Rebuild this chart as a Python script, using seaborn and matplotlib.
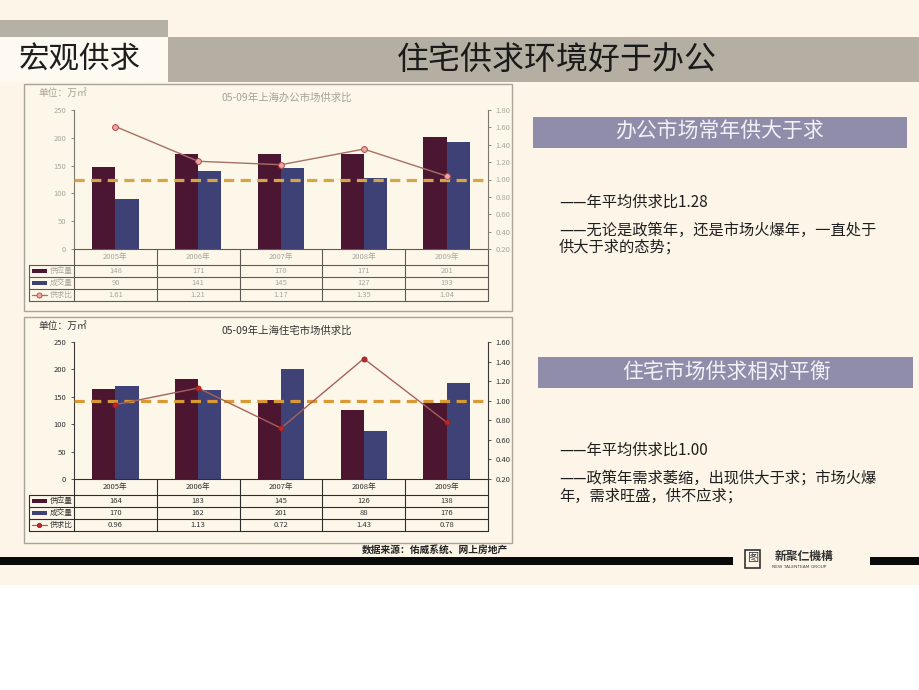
import numpy as np
import pandas as pd
import matplotlib
matplotlib.use("Agg")
import matplotlib.pyplot as plt
import matplotlib.transforms as mtransforms
from matplotlib.patches import Rectangle
from matplotlib.lines import Line2D
import seaborn as sns

sns.set_theme(style="white")
plt.rcParams['font.family'] = ['Noto Sans CJK SC', 'DejaVu Sans']
plt.rcParams['axes.unicode_minus'] = False

# ---------------- data ----------------
years = ["2005年", "2006年", "2007年", "2008年", "2009年"]
series_names = ["供应量", "成交量", "供求比"]

office_supply = [148, 171, 170, 171, 201]
office_deal = [90, 141, 145, 127, 193]
office_ratio = [1.61, 1.21, 1.17, 1.35, 1.04]

res_supply = [164, 183, 145, 126, 138]
res_deal = [170, 162, 201, 88, 176]
res_ratio = [0.96, 1.13, 0.72, 1.43, 0.78]

balance_ratio = 1.00

left_ticks = [0, 50, 100, 150, 200, 250]
office_right_ticks = [0.20, 0.40, 0.60, 0.80, 1.00, 1.20, 1.40, 1.60, 1.80]
res_right_ticks = [0.20, 0.40, 0.60, 0.80, 1.00, 1.20, 1.40, 1.60]

office_title = "05-09年上海办公市场供求比"
res_title = "05-09年上海住宅市场供求比"
unit_label = "单位：万㎡"
section_label = "宏观供求"
page_title = "住宅供求环境好于办公"
office_head = "办公市场常年供大于求"
office_lines = ["——年平均供求比1.28",
                "——无论是政策年，还是市场火爆年，一直处于",
                "供大于求的态势；"]
res_head = "住宅市场供求相对平衡"
res_lines = ["——年平均供求比1.00",
             "——政策年需求萎缩，出现供大于求；市场火爆",
             "年，需求旺盛，供不应求；"]
source_label = "数据来源：佑威系统、网上房地产"
logo_cn = "新聚仁機構"
logo_en = "NEW TALENTEAM GROUP"

# ---------------- figure ----------------
W, H = 920, 690
fig = plt.figure(figsize=(9.2, 6.9), dpi=100)
fig.patch.set_facecolor("white")

bg = fig.add_axes([0, 0, 1, 1])
bg.set_xlim(0, W)
bg.set_ylim(H, 0)
bg.axis("off")
bg.set_zorder(0)

CREAM = "#FDF6E8"
GRAY = "#B5AFA3"


def rect(x, y, w, h, fc, ec="none", lw=0, z=1):
    bg.add_patch(Rectangle((x, y), w, h, facecolor=fc, edgecolor=ec, linewidth=lw, zorder=z))


rect(0, 0, W, 585, CREAM)
rect(0, 20, 168, 17, "#B6B1A6", z=2)
rect(168, 37, W - 168, 45, GRAY, z=2)
rect(0, 37, 168, 45, "#FEFAF2", z=2)
bg.text(80, 60, section_label, fontsize=22, color="#1E1E1E", ha="center", va="center", zorder=3)
bg.text(557, 61, page_title, fontsize=23, color="#1A1A1A", ha="center", va="center", zorder=3)

# chart boxes
rect(24, 84, 488, 227, "#FDF7EA", ec="#A9A398", lw=1.0, z=2)
rect(24, 317, 488, 226, "#FDF7EA", ec="#A9A398", lw=1.0, z=2)

# right side panels
rect(533, 117, 374, 31, "#8F8DAA", z=2)
bg.text(720, 132, office_head, fontsize=15, color="#F3F1F7", ha="center", va="center", zorder=3)
for txt, yy in zip(office_lines, [202, 230, 247]):
    bg.text(559, yy, txt, fontsize=11, color="#1E1E1E", ha="left", va="center", zorder=3)

rect(538, 357, 375, 31, "#8F8DAA", z=2)
bg.text(727, 373, res_head, fontsize=15, color="#F3F1F7", ha="center", va="center", zorder=3)
for txt, yy in zip(res_lines, [450, 478, 496]):
    bg.text(559, yy, txt, fontsize=11, color="#1E1E1E", ha="left", va="center", zorder=3)

# footer
bg.text(508, 550, source_label, fontsize=7, fontweight="bold", color="#222222",
        ha="right", va="center", zorder=3)
rect(0, 557, 733, 8, "#0A0A0A", z=3)
rect(870, 557, 50, 8, "#0A0A0A", z=3)
rect(745, 550, 15, 18, "none", ec="#333333", lw=1.2, z=3)
bg.text(752.5, 558, "图", fontsize=8, color="#333333", ha="center", va="center", zorder=4)
bg.text(775, 556, logo_cn, fontsize=8.5, fontweight="bold", color="#333333", ha="left", va="center", zorder=4)
bg.text(772, 567, logo_en, fontsize=3.2, color="#444444", ha="left", va="center", zorder=4,
        family=["DejaVu Sans"])

AX_L, AX_R = 74, 488


def fig_rect(left, top, right, bottom):
    return [left / W, 1 - bottom / H, (right - left) / W, (bottom - top) / H]


def draw_chart(title, supply, deal, ratio, rticks, top_px, bottom_px, box_top, sty):
    ax = fig.add_axes(fig_rect(AX_L, top_px, AX_R, bottom_px))
    ax.set_zorder(2)
    ax.set_facecolor("none")
    df = pd.DataFrame({
        "year": years * 2,
        "series": [series_names[0]] * len(years) + [series_names[1]] * len(years),
        "value": list(supply) + list(deal),
    })
    sns.barplot(data=df, x="year", y="value", hue="series", order=years,
                hue_order=series_names[:2], palette=[sty["c1"], sty["c2"]],
                width=0.56, saturation=1, legend=False, ax=ax,
                linewidth=0, edgecolor="none")
    ax.set_ylim(left_ticks[0], left_ticks[-1])
    ax.set_yticks(left_ticks)
    ax.set_xlabel("")
    ax.set_ylabel("")
    for s in ["top", "right"]:
        ax.spines[s].set_visible(False)
    ax.spines["left"].set_color(sty["spine"])
    ax.spines["left"].set_linewidth(0.8)
    ax.spines["bottom"].set_color(sty["grid"])
    ax.spines["bottom"].set_linewidth(0.8)
    ax.tick_params(axis="y", labelsize=5.5, labelcolor=sty["text"], color=sty["spine"],
                   length=2.5, width=0.6, direction="out", pad=3, left=True)
    ax.tick_params(axis="x", labelsize=5.5, labelcolor=sty["text"], length=0, pad=3.2)

    ax2 = ax.twinx()
    ax2.set_zorder(3)
    ax2.patch.set_visible(False)
    ax2.axhline(balance_ratio, color=sty["dash"], linewidth=2.3, linestyle=(0, (3.2, 2.0)), zorder=1)
    rdf = pd.DataFrame({"year": years, "ratio": ratio})
    n_before = len(ax2.lines)
    sns.pointplot(data=rdf, x="year", y="ratio", order=years, color=sty["line"],
                  markers="o", errorbar=None, ax=ax2)
    for ln in ax2.lines[n_before:]:
        ln.set_linewidth(1.0)
        ln.set_markersize(sty["ms"])
        ln.set_markerfacecolor(sty["mfc"])
        ln.set_markeredgecolor(sty["mec"])
        ln.set_markeredgewidth(0.7)
        ln.set_zorder(4)
    ax2.set_ylim(rticks[0], rticks[-1])
    ax2.set_yticks(rticks)
    ax2.set_yticklabels([f"{t:.2f}" for t in rticks])
    ax2.set_ylabel("")
    ax2.set_xlabel("")
    for s in ["top", "left", "bottom"]:
        ax2.spines[s].set_visible(False)
    ax2.spines["right"].set_color(sty["spine"])
    ax2.spines["right"].set_linewidth(0.8)
    ax2.tick_params(axis="y", labelsize=5.5, labelcolor=sty["text"], color=sty["spine"],
                    length=2.5, width=0.6, direction="out", pad=3, right=True)
    ax.set_xlim(-0.5, len(years) - 0.5)

    # ---------- data table under the axes ----------
    h_px = bottom_px - top_px
    yf = lambda off: -off / h_px
    xf = lambda px: (px - AX_L) / (AX_R - AX_L)
    tx = mtransforms.blended_transform_factory(ax.transData, ax.transAxes)
    row_off = [16, 28, 40, 52]
    lc = sty["grid"]
    for off in row_off:
        ax.add_line(Line2D([xf(29), 1], [yf(off)] * 2, transform=ax.transAxes,
                           color=lc, lw=0.8, clip_on=False))
    for b in np.arange(len(years) + 1) - 0.5:
        ax.add_line(Line2D([b, b], [0, yf(row_off[-1])], transform=tx,
                           color=lc, lw=0.8, clip_on=False))
    ax.add_line(Line2D([xf(29)] * 2, [yf(row_off[0]), yf(row_off[-1])], transform=ax.transAxes,
                       color=lc, lw=0.8, clip_on=False))
    rows = [(supply, "{:d}"), (deal, "{:d}"), (ratio, "{:.2f}")]
    for r, (vals, fmt) in enumerate(rows):
        yc = yf((row_off[r] + row_off[r + 1]) / 2)
        for i, v in enumerate(vals):
            ax.text(i, yc, fmt.format(v), transform=tx, ha="center", va="center",
                    fontsize=5.5, color=sty["text"])
        # legend glyph
        if r < 2:
            ax.add_patch(Rectangle((xf(32), yc - 2.2 / h_px), xf(47) - xf(32), 4.4 / h_px,
                                   transform=ax.transAxes, facecolor=[sty["c1"], sty["c2"]][r],
                                   edgecolor="none", clip_on=False))
        else:
            ax.add_line(Line2D([xf(32), xf(47)], [yc, yc], transform=ax.transAxes,
                               color=sty["line"], lw=0.9, clip_on=False))
            ax.add_line(Line2D([xf(39.5)], [yc], transform=ax.transAxes, marker="o",
                               markersize=sty["ms"] - 0.5, markerfacecolor=sty["mfc"],
                               markeredgecolor=sty["mec"], markeredgewidth=0.6, clip_on=False))
        ax.text(xf(50), yc, series_names[r], transform=ax.transAxes, ha="left", va="center",
                fontsize=5.5, color=sty["text"])

    # titles
    bg.text(38, box_top + 9, unit_label, fontsize=7, color=sty["title"], ha="left",
            va="center", style="italic", zorder=3)
    bg.text(287, box_top + 14, title, fontsize=7.5, color=sty["title"], ha="center",
            va="center", zorder=3)
    return ax, ax2


faded = dict(c1="#4A1631", c2="#3E4175", spine="#7E776E", grid="#5E5953", text="#ADA59B",
             title="#A8A096", line="#A86F62", dash="#D6A646", ms=4.2, mfc="#E7A8A4", mec="#B5484A")
sharp = dict(c1="#4C1530", c2="#3F4276", spine="#3A3A3A", grid="#2E2E2E", text="#333333",
             title="#333333", line="#A8615A", dash="#D99A35", ms=3.6, mfc="#C02828", mec="#A02020")

draw_chart(office_title, office_supply, office_deal, office_ratio, office_right_ticks,
           110, 249, 84, faded)
draw_chart(res_title, res_supply, res_deal, res_ratio, res_right_ticks,
           342, 479, 317, sharp)

fig.savefig("out.png", dpi=100)
